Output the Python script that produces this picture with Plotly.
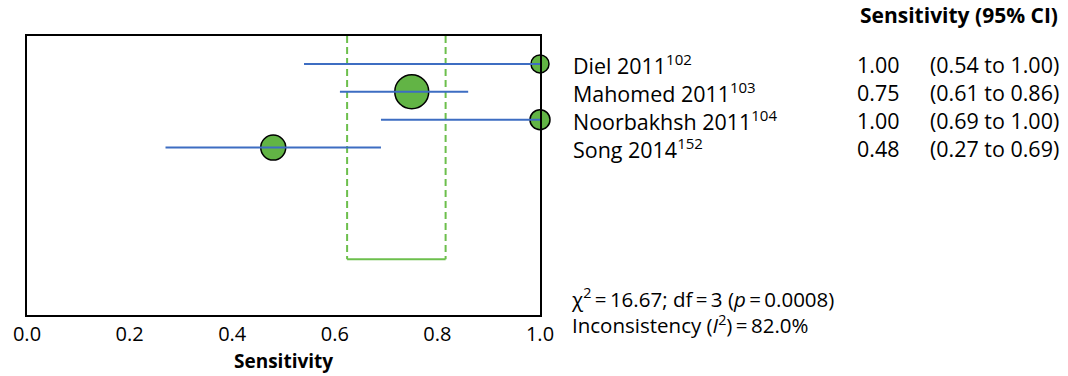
import plotly.graph_objects as go

# Study-level sensitivity estimates with 95% confidence intervals
studies = ["Diel 2011", "Mahomed 2011", "Noorbakhsh 2011", "Song 2014"]
refs = ["102", "103", "104", "152"]
sens = [1.00, 0.75, 1.00, 0.48]
ci_lo = [0.54, 0.61, 0.69, 0.27]
ci_hi = [1.00, 0.86, 1.00, 0.69]
weights = [18, 34, 20, 25]          # marker diameter (px), study weight
rows = [1, 2, 3, 4]

# Pooled estimate interval
pooled_lo, pooled_hi = 0.624, 0.816
pooled_row = 8

chi2, df, pval, i2 = "16.67", "3", "0.0008", "82.0%"
xticks = [0.0, 0.2, 0.4, 0.6, 0.8, 1.0]

FONT = "Open Sans"
BLUE = "#3d6dc2"
GREEN = "#62b445"
GREEN_LINE = "#6cbf4c"

W, H = 1068, 376
L, R, T, B = 27, 540, 36, 315
ROW_PX = (B - T) / 10               # pixel height of one row unit
ROW_FONT = ROW_PX / 1.3             # line height equals the row spacing


def px(xpix):
    """Horizontal pixel position -> paper coordinate."""
    return (xpix - L) / (R - L)


def py(ypix):
    """Vertical pixel position -> paper coordinate."""
    return (B - ypix) / (B - T)


fig = go.Figure()

# Pooled CI bracket: dashed verticals and a solid base
for xv in (pooled_lo, pooled_hi):
    fig.add_trace(go.Scatter(
        x=[xv, xv], y=[0, pooled_row], mode="lines",
        line=dict(color=GREEN_LINE, width=2, dash="7px,4px"),
        hoverinfo="skip", showlegend=False, cliponaxis=False))
fig.add_trace(go.Scatter(
    x=[pooled_lo, pooled_hi], y=[pooled_row, pooled_row], mode="lines",
    line=dict(color=GREEN_LINE, width=2),
    hoverinfo="skip", showlegend=False))

# Point estimates
fig.add_trace(go.Scatter(
    x=sens, y=rows, mode="markers",
    marker=dict(size=weights, color=GREEN, opacity=1,
                line=dict(color="black", width=1.5)),
    showlegend=False, cliponaxis=False))

# Confidence interval lines drawn over the markers
cx, cy = [], []
for lo, hi, r in zip(ci_lo, ci_hi, rows):
    cx += [lo, hi, None]
    cy += [r, r, None]
fig.add_trace(go.Scatter(
    x=cx, y=cy, mode="lines", line=dict(color=BLUE, width=2),
    showlegend=False, cliponaxis=False))

TXT = dict(color="black", family=FONT)
mid_row = (rows[0] + rows[-1]) / 2
ann = []
# Header for the estimate columns
ann.append(dict(text="<b>Sensitivity (95% CI)</b>", xref="paper", yref="paper",
                x=px(1060), y=py(15), xanchor="right", yanchor="middle",
                showarrow=False, font=dict(size=21, **TXT)))
# Study names, point estimates and intervals as row-aligned text columns
labels = "<br>".join(f"{n}<sup>{r}</sup>" for n, r in zip(studies, refs))
values = "<br>".join(f"{s:.2f}" for s in sens)
cis = "<br>".join(f"({lo:.2f} to {hi:.2f})" for lo, hi in zip(ci_lo, ci_hi))
for text, xp, anchor, al in ((labels, 571, "left", "left"),
                             (values, 855, "left", "left"),
                             (cis, 1061, "right", "right")):
    ann.append(dict(text=text, xref="paper", yref="y", x=px(xp), y=mid_row,
                    xanchor=anchor, yanchor="middle", align=al, yshift=-1,
                    showarrow=False, font=dict(size=ROW_FONT, **TXT)))

# Heterogeneity statistics (two lines in one block)
stats = (f"χ<sup>2</sup>\u2009=\u2009{chi2}; df\u2009=\u2009{df} (<i>p</i>\u2009=\u2009{pval})"
         f"<br>Inconsistency (<i>I</i><sup>2</sup>)\u2009=\u2009{i2}")
ann.append(dict(text=stats, xref="paper", yref="paper", x=px(569), y=py(311),
                xanchor="left", yanchor="middle", align="left", showarrow=False,
                font=dict(size=20.5, **TXT)))
# Axis title
ann.append(dict(text="<b>Sensitivity</b>", xref="x", yref="paper",
                x=0.5, y=py(361), xanchor="center", yanchor="middle",
                showarrow=False, font=dict(size=19, **TXT)))

fig.update_layout(
    width=W, height=H,
    margin=dict(l=L, r=W - R, t=T, b=H - B),
    paper_bgcolor="white", plot_bgcolor="white",
    font=dict(family=FONT, color="black"),
    annotations=ann,
    xaxis=dict(range=[0, 1], tickvals=xticks, ticktext=[f"{v:.1f}" for v in xticks],
               showgrid=False, zeroline=False, showline=True, mirror=True,
               linecolor="black", linewidth=2, ticks="",
               tickfont=dict(size=20, **TXT)),
    yaxis=dict(range=[10, 0], showgrid=False, zeroline=False, showline=True,
               mirror=True, linecolor="black", linewidth=2, showticklabels=False,
               ticks=""),
)

fig.write_html("out.html")
